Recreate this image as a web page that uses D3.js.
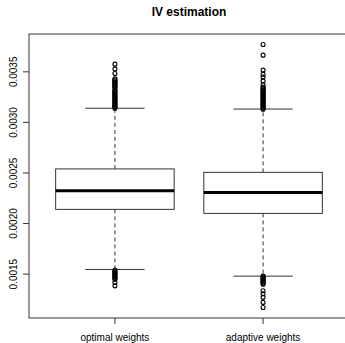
<!DOCTYPE html>
<html lang="en">
  <head>
    <meta charset="utf-8">
    <title>IV estimation</title>
    <script src="https://d3js.org/d3.v7.min.js"></script>
    <style>
      body { margin: 0; background-color: white; }
      svg { background-color: white; display: block; }
      text { font-family: "Liberation Sans", Arial, sans-serif; fill: #000; }
    </style>
  </head>
  <body>
    <script>
      var w = 345;
      var h = 343;

      // data
      var groups = ["optimal weights", "adaptive weights"];
      var whiskerLow = [0.001546, 0.00148];
      var q1 = [0.00214, 0.0021];
      var median = [0.002325, 0.002306];
      var q3 = [0.00254, 0.002506];
      var whiskerHigh = [0.00314, 0.003132];
      var outliersOptimal = [0.00314, 0.00315, 0.00316, 0.00317, 0.00318, 0.00319, 0.0032, 0.00321,
        0.00322, 0.00323, 0.00324, 0.00325, 0.00326, 0.00327, 0.00328, 0.00329, 0.0033, 0.00331,
        0.00332, 0.00334, 0.00335, 0.00336, 0.00337, 0.00338, 0.00339, 0.0034, 0.00341, 0.00342,
        0.00343, 0.003484, 0.003527, 0.003576,
        0.00154, 0.00153, 0.00152, 0.00151, 0.0015, 0.00149, 0.00148, 0.00147, 0.00146,
        0.001448, 0.001418, 0.001384];
      var outliersAdaptive = [0.00313, 0.00314, 0.00315, 0.00316, 0.00317, 0.00318, 0.00319, 0.0032,
        0.00321, 0.00322, 0.00323, 0.00324, 0.00325, 0.00326, 0.00327, 0.00328, 0.00329, 0.0033,
        0.00331, 0.00332, 0.00333, 0.00334, 0.00335, 0.003372, 0.003411, 0.003448, 0.003477,
        0.003517, 0.003665, 0.00377,
        0.00148, 0.00147, 0.00146, 0.00145, 0.00144, 0.00143, 0.00142, 0.00141, 0.0014,
        0.001335, 0.001306, 0.00127, 0.00122, 0.00117];
      var outliers = [outliersOptimal, outliersAdaptive];
      var yTicks = [0.0015, 0.002, 0.0025, 0.003, 0.0035];

      var plotL = 29, plotR = 349, plotT = 34, plotB = 318;

      var svg = d3.select("body").append("svg")
        .attr("width", w)
        .attr("height", h);

      var x = d3.scaleLinear().domain([0.42, 2.58]).range([plotL, plotR]);
      var y = d3.scaleLinear().domain([0.001066, 0.003874]).range([plotB, plotT]);

      var stroke = "#333";

      // title
      svg.append("text")
        .attr("x", (plotL + plotR) / 2)
        .attr("y", 16)
        .attr("text-anchor", "middle")
        .style("font-size", "12px")
        .style("font-weight", "bold")
        .text("IV estimation");

      var g = svg.append("g");

      groups.forEach(function(name, i) {
        var cx = x(i + 1);
        // whiskers (dashed)
        g.append("line")
          .attr("x1", cx).attr("x2", cx)
          .attr("y1", y(q3[i])).attr("y2", y(whiskerHigh[i]))
          .attr("stroke", stroke).attr("stroke-dasharray", "4,3");
        g.append("line")
          .attr("x1", cx).attr("x2", cx)
          .attr("y1", y(q1[i])).attr("y2", y(whiskerLow[i]))
          .attr("stroke", stroke).attr("stroke-dasharray", "4,3");
        // staples
        [whiskerHigh[i], whiskerLow[i]].forEach(function(v) {
          g.append("line")
            .attr("x1", x(i + 1 - 0.2)).attr("x2", x(i + 1 + 0.2))
            .attr("y1", y(v)).attr("y2", y(v))
            .attr("stroke", stroke);
        });
        // box
        g.append("rect")
          .attr("x", x(i + 1 - 0.4))
          .attr("y", y(q3[i]))
          .attr("width", x(i + 1.4) - x(i + 0.6))
          .attr("height", y(q1[i]) - y(q3[i]))
          .attr("fill", "white")
          .attr("stroke", stroke);
        // median
        g.append("line")
          .attr("x1", x(i + 1 - 0.4)).attr("x2", x(i + 1 + 0.4))
          .attr("y1", y(median[i])).attr("y2", y(median[i]))
          .attr("stroke", "#000").attr("stroke-width", 3);
        // outliers
        g.selectAll(null)
          .data(outliers[i])
          .enter().append("circle")
          .attr("cx", cx)
          .attr("cy", function(d) { return y(d); })
          .attr("r", 2)
          .attr("fill", "none")
          .attr("stroke", "#000")
          .attr("stroke-width", 1.1);
      });

      // frame
      svg.append("rect")
        .attr("x", plotL).attr("y", plotT)
        .attr("width", plotR - plotL).attr("height", plotB - plotT)
        .attr("fill", "none").attr("stroke", stroke);

      // y axis
      var yAxis = svg.append("g");
      yAxis.selectAll("line")
        .data(yTicks)
        .enter().append("line")
        .attr("x1", plotL - 6).attr("x2", plotL)
        .attr("y1", function(d) { return y(d); })
        .attr("y2", function(d) { return y(d); })
        .attr("stroke", stroke);
      yAxis.selectAll("text")
        .data(yTicks)
        .enter().append("text")
        .attr("transform", function(d) { return "translate(17," + y(d) + ") rotate(-90)"; })
        .attr("text-anchor", "middle")
        .style("font-size", "10px")
        .text(function(d) { return d3.format(".4f")(d); });

      // x axis
      var xAxis = svg.append("g");
      xAxis.selectAll("line")
        .data(groups)
        .enter().append("line")
        .attr("x1", function(d, i) { return x(i + 1); })
        .attr("x2", function(d, i) { return x(i + 1); })
        .attr("y1", plotB).attr("y2", plotB + 6)
        .attr("stroke", stroke);
      xAxis.selectAll("text")
        .data(groups)
        .enter().append("text")
        .attr("x", function(d, i) { return x(i + 1); })
        .attr("y", 341)
        .attr("text-anchor", "middle")
        .style("font-size", "10px")
        .text(function(d) { return d; });
    </script>
  </body>
</html>
